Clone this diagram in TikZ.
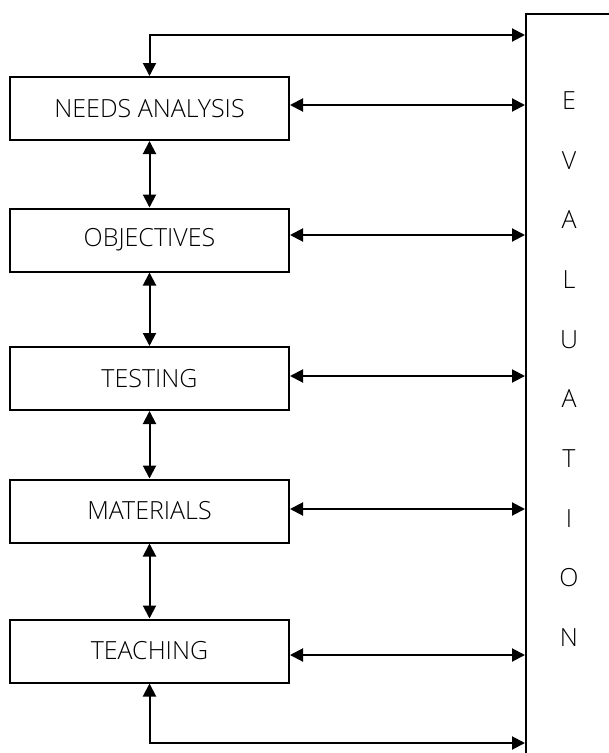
\documentclass[tikz,border=0pt]{standalone}
\usepackage{fontspec}
\setmainfont{Open Sans Light}
\usetikzlibrary{arrows.meta}
\begin{document}
\begin{tikzpicture}[x=1pt,y=-1pt,
  stagebox/.style={draw, line width=2pt, minimum width=279pt, minimum height=63pt, inner sep=0pt, font=\fontsize{25}{30}\selectfont},
  link/.style={line width=2pt, {Triangle[length=13pt,width=13pt]}-{Triangle[length=13pt,width=13pt]}},
  letter/.style={font=\fontsize{25}{30}\selectfont, inner sep=0pt}]
\useasboundingbox (0,0) rectangle (609,753);
\node[draw, line width=2pt, anchor=north west, minimum width=120pt, minimum height=780pt, inner sep=0pt] (eval) at (525,13) {};
\node[stagebox] (n1) at (149.5,108.5) {NEEDS ANALYSIS};
\node[stagebox] (n2) at (149.5,240) {OBJECTIVES};
\node[stagebox] (n3) at (149.5,378.5) {TESTING};
\node[stagebox] (n4) at (149.5,511) {MATERIALS};
\node[stagebox] (n5) at (149.5,651) {TEACHING};
\foreach \l/\yy [count=\i] in {E/101,V/161,A/220,L/280,U/340,A/399,T/459,I/519,O/578,N/638}
  \node[letter] (L\i) at (569,\yy) {\l};
\coordinate (top) at (525,35);
\coordinate (bot) at (525,743);
\draw[link] (n1.north) |- (top);
\draw[link] (n5.south) |- (bot);
\draw[link] (n1.south) -- (n2.north);
\draw[link] (n2.south) -- (n3.north);
\draw[link] (n3.south) -- (n4.north);
\draw[link] (n4.south) -- (n5.north);
\draw[link] ([yshift=3.5pt]n1.east) -- ([yshift=3.5pt]n1.east -| eval.west);
\draw[link] ([yshift=5pt]n2.east) -- ([yshift=5pt]n2.east -| eval.west);
\draw[link] ([yshift=2.5pt]n3.east) -- ([yshift=2.5pt]n3.east -| eval.west);
\draw[link] ([yshift=2pt]n4.east) -- ([yshift=2pt]n4.east -| eval.west);
\draw[link] ([yshift=-4pt]n5.east) -- ([yshift=-4pt]n5.east -| eval.west);
\end{tikzpicture}
\end{document}
